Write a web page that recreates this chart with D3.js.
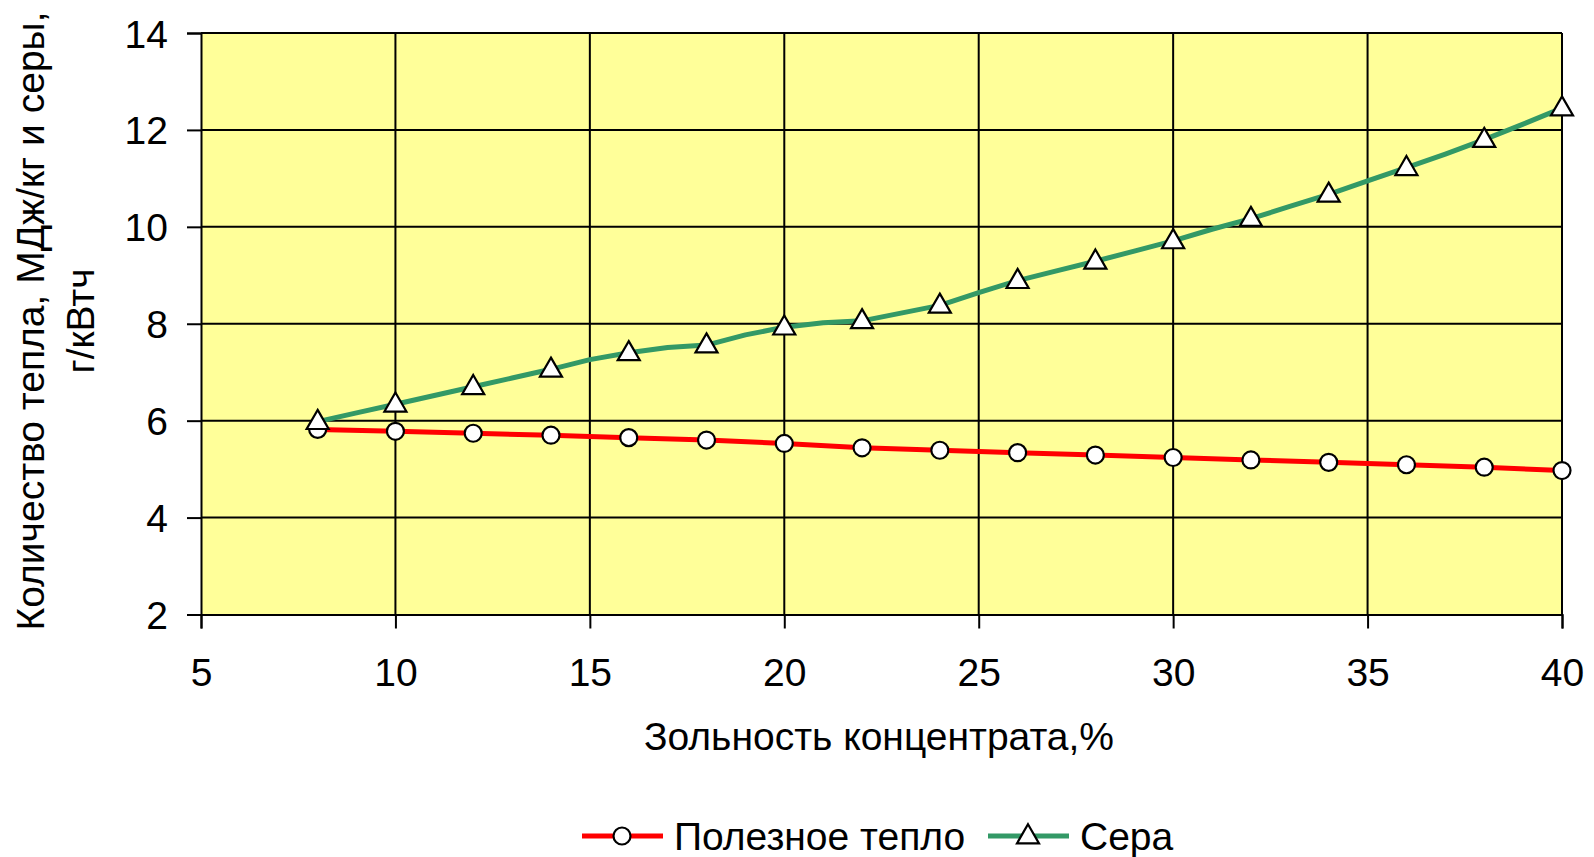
<!DOCTYPE html>
<html>
<head>
<meta charset="utf-8">
<script src="https://cdn.jsdelivr.net/npm/d3@7"></script>
<style>
  html, body { margin: 0; padding: 0; background: #ffffff; }
  svg { display: block; }
  text { font-family: "Liberation Sans", Arial, sans-serif; fill: #000; }
</style>
</head>
<body>
<svg id="chart" width="1594" height="857"></svg>
<script>
// Ash content of the concentrate, %
const heatAsh = [8, 10, 12, 14, 16, 18, 20, 22, 24, 26, 28, 30, 32, 34, 36, 38, 40];
// Useful heat, MJ/kg
const heatValues = [5.82, 5.78, 5.74, 5.70, 5.65, 5.60, 5.53, 5.44, 5.39, 5.34, 5.29, 5.24, 5.19, 5.14, 5.09, 5.04, 4.97];

// Sulphur, g/kWh (recorded at every 1 % of ash, markers at every 2 %)
const sulphurAsh = [8, 9, 10, 11, 12, 13, 14, 15, 16, 17, 18, 19, 20, 21, 22, 23, 24,
                    25, 26, 27, 28, 29, 30, 31, 32, 33, 34, 35, 36, 37, 38, 39, 40];
const sulphurValues = [5.98, 6.16, 6.34, 6.52, 6.70, 6.88, 7.06, 7.26, 7.40, 7.51, 7.56, 7.77, 7.93, 8.02, 8.06, 8.22, 8.38,
                       8.64, 8.89, 9.09, 9.29, 9.50, 9.71, 9.95, 10.17, 10.42, 10.67, 10.95, 11.22, 11.50, 11.80, 12.12, 12.45];

const xTicks = [5, 10, 15, 20, 25, 30, 35, 40];
const yTicks = [2, 4, 6, 8, 10, 12, 14];

const seriesNames = ["Полезное тепло", "Сера"];
const xTitle = "Зольность концентрата,%";
const yTitleLines = ["Количество тепла, МДж/кг и серы,", "г/кВтч"];

const FONT = 39;

const svg = d3.select("#chart");
const plot = { left: 201, right: 1562, top: 33, bottom: 614.5 };

const x = d3.scaleLinear().domain([5, 40]).range([plot.left, plot.right]);
const y = d3.scaleLinear().domain([2, 14]).range([plot.bottom, plot.top]);

// Plot area background
svg.append("rect")
  .attr("x", plot.left).attr("y", plot.top)
  .attr("width", plot.right - plot.left).attr("height", plot.bottom - plot.top)
  .attr("fill", "#FFFF99");

// Grid
svg.append("g").selectAll("line").data(yTicks.filter(d => d > 2)).join("line")
  .attr("x1", plot.left).attr("x2", plot.right)
  .attr("y1", d => y(d)).attr("y2", d => y(d))
  .attr("stroke", "#000").attr("stroke-width", 2);
svg.append("g").selectAll("line").data(xTicks.filter(d => d > 5)).join("line")
  .attr("x1", d => x(d)).attr("x2", d => x(d))
  .attr("y1", plot.top).attr("y2", plot.bottom)
  .attr("stroke", "#000").attr("stroke-width", 2);

// Axes
const xAxis = d3.axisBottom(x).tickValues(xTicks).tickSize(14).tickPadding(30).tickFormat(d3.format("d"));
const yAxis = d3.axisLeft(y).tickValues(yTicks).tickSize(14).tickPadding(19).tickFormat(d3.format("d"));

const gx = svg.append("g").attr("transform", `translate(0,${plot.bottom})`).call(xAxis);
const gy = svg.append("g").attr("transform", `translate(${plot.left},0)`).call(yAxis);
[gx, gy].forEach(g => {
  g.select(".domain").attr("stroke", "#000").attr("stroke-width", 2);
  g.selectAll(".tick line").attr("stroke", "#000").attr("stroke-width", 2);
  g.selectAll(".tick text").attr("font-size", FONT).attr("font-family", "Liberation Sans, Arial, sans-serif").attr("fill", "#000");
});
gy.selectAll(".tick text").attr("dy", "0.36em");
gx.selectAll(".tick text").attr("dy", "0.71em");

// Axis titles
svg.append("text")
  .attr("x", 879).attr("y", 750)
  .attr("text-anchor", "middle").attr("font-size", FONT)
  .text(xTitle);

const yTitle = svg.append("text")
  .attr("transform", "translate(44,321) rotate(-90)")
  .attr("text-anchor", "middle").attr("font-size", FONT);
yTitle.selectAll("tspan").data(yTitleLines).join("tspan")
  .attr("x", 0).attr("dy", (d, i) => i === 0 ? 0 : 50)
  .text(d => d);

// Series
const line = d3.line().x(d => x(d[0])).y(d => y(d[1]));
const heatData = d3.zip(heatAsh, heatValues);
const sulphurData = d3.zip(sulphurAsh, sulphurValues);

const red = "#FF0000";
const green = "#339966";
const triangle = d3.symbol().type(d3.symbolTriangle).size(210);

svg.append("path").datum(heatData)
  .attr("d", line).attr("fill", "none").attr("stroke", red).attr("stroke-width", 5)
  .attr("stroke-linejoin", "round");
svg.append("g").selectAll("circle").data(heatData).join("circle")
  .attr("cx", d => x(d[0])).attr("cy", d => y(d[1])).attr("r", 8.5)
  .attr("fill", "#fff").attr("stroke", "#000").attr("stroke-width", 2.2);

svg.append("path").datum(sulphurData)
  .attr("d", line).attr("fill", "none").attr("stroke", green).attr("stroke-width", 5)
  .attr("stroke-linejoin", "round");
svg.append("g").selectAll("path").data(sulphurData.filter(d => d[0] % 2 === 0)).join("path")
  .attr("d", triangle)
  .attr("transform", d => `translate(${x(d[0])},${y(d[1]) + 1})`)
  .attr("fill", "#fff").attr("stroke", "#000").attr("stroke-width", 2.2);

// Legend
const legendY = 836;
const legend = svg.append("g");
const items = [
  { name: seriesNames[0], color: red, mark: "circle", x0: 582 },
  { name: seriesNames[1], color: green, mark: "triangle", x0: 988 }
];
items.forEach(it => {
  legend.append("line")
    .attr("x1", it.x0).attr("x2", it.x0 + 81)
    .attr("y1", legendY).attr("y2", legendY)
    .attr("stroke", it.color).attr("stroke-width", 5);
  if (it.mark === "circle") {
    legend.append("circle").attr("cx", it.x0 + 40).attr("cy", legendY).attr("r", 8.5)
      .attr("fill", "#fff").attr("stroke", "#000").attr("stroke-width", 2.2);
  } else {
    legend.append("path").attr("d", triangle)
      .attr("transform", `translate(${it.x0 + 40},${legendY + 1})`)
      .attr("fill", "#fff").attr("stroke", "#000").attr("stroke-width", 2.2);
  }
  legend.append("text")
    .attr("x", it.x0 + 92).attr("y", legendY).attr("dy", "0.36em")
    .attr("font-size", FONT).text(it.name);
});
</script>
</body>
</html>
